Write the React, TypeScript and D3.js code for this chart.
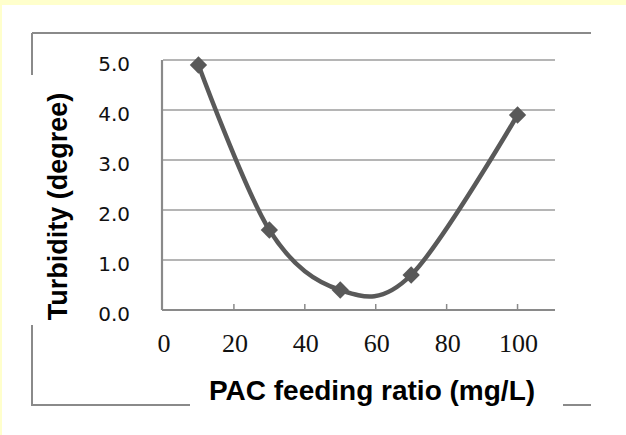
import { useEffect } from "react";
import * as d3 from "d3";

// PAC dose vs turbidity
const doses = [10, 30, 50, 70, 100];
const turbidity = [4.9, 1.6, 0.4, 0.7, 3.9];
const xTicks = [0, 20, 40, 60, 80, 100];
const yTicks = [0, 1, 2, 3, 4, 5];

const W = 626;
const H = 435;

const frameColor = "#8a8a8a";
const gridColor = "#9c9c9c";
const seriesColor = "#595959";

export default function App() {
  useEffect(() => {
    document.body.style.margin = "0";
  }, []);

  const x = d3.scaleLinear().domain([0, 110]).range([163, 553]);
  const y = d3.scaleLinear().domain([0, 5]).range([310, 60]);

  const pts = doses.map((d, i) => [x(d), y(turbidity[i])] as [number, number]);
  const path = d3.line().curve(d3.curveCatmullRom.alpha(0))(pts) ?? "";
  const diamond = d3.symbol().type(d3.symbolSquare).size(150)() ?? "";

  return (
    <svg width={W} height={H} style={{ position: "absolute", left: 0, top: 0, display: "block" }}>
      <rect x={0} y={0} width={W} height={H} fill="#ffffcc" />
      <rect x={2} y={5} width={W - 2} height={H - 5} fill="#ffffff" />

      {/* outer frame, broken where the axis titles sit */}
      <g stroke={frameColor} strokeWidth={2} fill="none">
        <line x1={32} y1={33} x2={591} y2={33} />
        <line x1={32} y1={33} x2={32} y2={75} />
        <line x1={32} y1={325} x2={32} y2={405} />
        <line x1={31} y1={405} x2={190} y2={405} />
        <line x1={563} y1={405} x2={591} y2={405} />
      </g>

      {/* gridlines */}
      <g stroke={gridColor} strokeWidth={1.5}>
        {yTicks.slice(1).map((t) => (
          <line key={t} x1={x(0)} x2={x(110) + 2} y1={y(t)} y2={y(t)} />
        ))}
      </g>

      {/* axes */}
      <g stroke={frameColor} strokeWidth={2.2} fill="none">
        <line x1={x(0) - 1} y1={y(0)} x2={x(110) + 2} y2={y(0)} />
        <line x1={x(0) - 1} y1={y(5)} x2={x(0) - 1} y2={y(0)} />
      </g>
      <g stroke={frameColor} strokeWidth={1.5}>
        {xTicks.slice(1).map((t) => (
          <line key={t} x1={x(t)} x2={x(t)} y1={y(0)} y2={y(0) - 6} />
        ))}
      </g>

      {/* y tick labels */}
      <g fontFamily="DejaVu Sans" fontSize={20} fill="#111" textAnchor="end">
        {yTicks.map((t) => (
          <text key={t} x={130} y={y(t) + 11}>
            {t.toFixed(1)}
          </text>
        ))}
      </g>

      {/* x tick labels */}
      <g fontFamily="Liberation Serif" fontSize={26} fill="#111" textAnchor="middle">
        {xTicks.map((t) => (
          <text key={t} x={x(t) + 1} y={352}>
            {t}
          </text>
        ))}
      </g>

      {/* series */}
      <path d={path} fill="none" stroke={seriesColor} strokeWidth={4.5} />
      {pts.map(([px, py], i) => (
        <path
          key={i}
          d={diamond}
          transform={`translate(${px},${py}) rotate(45)`}
          fill={seriesColor}
        />
      ))}

      {/* axis titles */}
      <text
        x={372}
        y={400}
        textAnchor="middle"
        fontFamily="Liberation Sans"
        fontWeight="bold"
        fontSize={28}
        fill="#000"
      >
        PAC feeding ratio (mg/L)
      </text>
      <text
        transform="translate(67,206.5) rotate(-90)"
        textAnchor="middle"
        fontFamily="Liberation Sans"
        fontWeight="bold"
        fontSize={27}
        fill="#000"
      >
        Turbidity (degree)
      </text>
    </svg>
  );
}
